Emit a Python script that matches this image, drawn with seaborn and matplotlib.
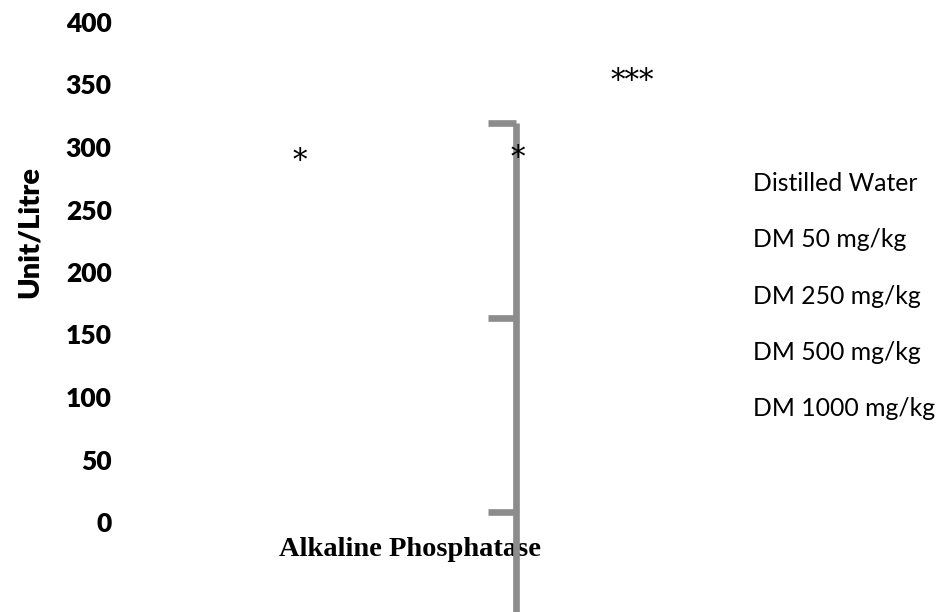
import matplotlib
matplotlib.use("Agg")
import matplotlib.pyplot as plt
import seaborn as sns
import pandas as pd

# ---- data ----
category = ["Alkaline Phosphatase"]
groups = ["Distilled Water", "DM 50 mg/kg", "DM 250 mg/kg", "DM 500 mg/kg", "DM 1000 mg/kg"]
bar_values = [0]                      # bars are not visible in the reference
yticks = [0, 50, 100, 150, 200, 250, 300, 350, 400]
errbar_caps = [319, 163, 8]           # cap levels of the grey error line
errbar_bottom = -72                   # stem runs past the plot bottom
sig_labels = ["*", "*", "***"]
sig_heights = [289, 291, 353]
sig_xpos = [-0.19, 0.186, 0.383]      # category-axis offsets of the significance marks

sns.set_theme(style="white")
plt.rcParams["font.family"] = ["Lato", "DejaVu Sans"]
plt.rcParams["text.color"] = "black"
plt.rcParams["axes.labelcolor"] = "black"
plt.rcParams["xtick.color"] = "black"
plt.rcParams["ytick.color"] = "black"

fig = plt.figure(figsize=(9.43, 6.12), dpi=100)
ax = fig.add_axes([120 / 943, 90 / 612, 580 / 943, 500 / 612])

df = pd.DataFrame({"test": category, "value": bar_values})
sns.barplot(data=df, x="test", y="value", ax=ax, color="white", linewidth=0, errorbar=None)

ax.set_xlim(-0.5, 0.5)
ax.set_ylim(0, 400)
ax.set_yticks(yticks)
ax.set_yticklabels([str(v) for v in yticks], fontsize=19, fontweight="heavy", family="Lato")
for s in ax.spines.values():
    s.set_visible(False)
ax.tick_params(axis="both", length=0, colors="black")
ax.tick_params(axis="y", pad=6)
ax.tick_params(axis="x", pad=11)
for t in ax.get_xticklabels():
    t.set_family("Liberation Serif")
    t.set_fontweight("bold")
    t.set_fontsize(20.5)
    t.set_color("black")

ax.set_xlabel("")
ax.set_ylabel("Unit/Litre", fontsize=21, fontweight="heavy", family="Lato", color="black")
ax.yaxis.label.set_va("center")
ax.yaxis.set_label_coords(-0.155, 0.58)

# grey error line
ex = 0.182
cap_w = 0.047
ax.vlines(ex, errbar_bottom, max(errbar_caps), colors="#8c8c8c", linewidth=4.8, clip_on=False, zorder=3)
ax.hlines(errbar_caps, ex - cap_w, ex, colors="#8c8c8c", linewidth=4.8, clip_on=False, zorder=3)

# significance marks
for lab, h, xp in zip(sig_labels, sig_heights, sig_xpos):
    ax.text(xp, h, lab, ha="center", va="center", fontsize=21, family="DejaVu Serif", color="black", zorder=4)

# legend text (no swatches)
for i, g in enumerate(groups):
    fig.text(753 / 943, 1 - (183 + 56.5 * i) / 612, g, ha="left", va="center", fontsize=17.8, family="Lato", color="black")

fig.savefig("out.png", dpi=100)
